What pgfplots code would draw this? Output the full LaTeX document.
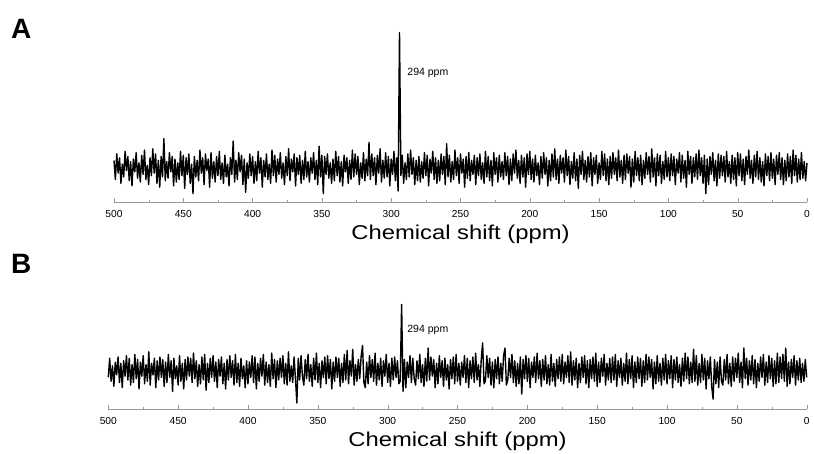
\documentclass[border=0pt]{standalone}
\usepackage{pgfplots}
\pgfplotsset{compat=1.18}
\usepackage{pgfplotstable}
\usepackage{fontspec}
\setmainfont{Liberation Sans}

% x = chemical shift (ppm), a = spectrum A, b = spectrum B (arbitrary units)
\pgfplotstableread[row sep=\\]{
x a b\\
500 6 -5\\ 499 -9 10\\ 498 11 -8\\ 497 -4 4\\ 496 8 -12\\
495 -12 7\\ 494 3 -3\\ 493 -7 11\\ 492 13 -9\\ 491 -2 6\\
490 9 -13\\ 489 -10 8\\ 488 5 -4\\ 487 -14 12\\ 486 7 -7\\
485 -3 10\\ 484 12 -11\\ 483 -8 5\\ 482 4 -9\\ 481 -11 13\\
480 10 -6\\ 479 -5 9\\ 478 14 -14\\ 477 -9 7\\ 476 2 -4\\
475 -13 12\\ 474 8 -10\\ 473 -6 5\\ 472 15 -8\\ 471 -4 15\\
470 11 -11\\ 469 -12 6\\ 468 6 -3\\ 467 -15 10\\ 466 9 -13\\
465 -7 8\\ 464 23 -7\\ 463 -10 11\\ 462 5 -5\\ 461 -8 9\\
460 12 -12\\ 459 -3 7\\ 458 9 -9\\ 457 -14 13\\ 456 7 -5\\
455 -11 8\\ 454 4 -16\\ 453 -9 10\\ 452 13 -6\\ 451 -6 4\\
450 10 -11\\ 449 -16 12\\ 448 8 -8\\ 447 -5 6\\ 446 11 -14\\
445 -12 9\\ 444 3 -7\\ 443 -20 11\\ 442 9 -4\\ 441 -7 10\\
440 6 -9\\ 439 -10 14\\ 438 14 -6\\ 437 -4 8\\ 436 8 -12\\
435 -13 5\\ 434 11 -10\\ 433 -2 11\\ 432 7 -7\\ 431 -15 13\\
430 12 -15\\ 429 -8 6\\ 428 5 -9\\ 427 -11 10\\ 426 9 -5\\
425 -6 12\\ 424 13 -8\\ 423 -9 7\\ 422 4 -13\\ 421 -12 9\\
420 10 -4\\ 419 -7 11\\ 418 3 -10\\ 417 -14 6\\ 416 8 -14\\
415 -5 9\\ 414 21 -7\\ 413 -11 12\\ 412 6 -5\\ 411 -9 8\\
410 12 -11\\ 409 -3 13\\ 408 10 -9\\ 407 -13 6\\ 406 7 -12\\
405 -19 10\\ 404 4 -6\\ 403 -8 4\\ 402 11 -13\\ 401 -6 8\\
400 9 -10\\ 399 -12 7\\ 398 5 -5\\ 397 -10 12\\ 396 13 -9\\
395 -4 11\\ 394 8 -14\\ 393 -15 6\\ 392 6 -8\\ 391 -7 10\\
390 11 -4\\ 389 -9 13\\ 388 3 -11\\ 387 -12 7\\ 386 14 -9\\
385 -6 5\\ 384 10 -12\\ 383 -11 14\\ 382 7 -6\\ 381 -5 9\\
380 12 -13\\ 379 -8 8\\ 378 4 -7\\ 377 -13 10\\ 376 9 -5\\
375 -6 12\\ 374 15 -10\\ 373 -10 6\\ 372 7 -11\\ 371 -3 15\\
370 11 -8\\ 369 -14 4\\ 368 8 -9\\ 367 -5 11\\ 366 10 -6\\
365 -12 -25\\ 364 6 10\\ 363 -9 -7\\ 362 13 12\\ 361 -7 -4\\
360 5 -11\\ 359 -11 9\\ 358 8 -6\\ 357 -4 13\\ 356 12 -8\\
355 -9 5\\ 354 6 -12\\ 353 -13 10\\ 352 17 -7\\ 351 -7 14\\
350 10 -9\\ 349 -20 6\\ 348 9 -13\\ 347 -5 8\\ 346 11 -5\\
345 -8 11\\ 344 4 -10\\ 343 -12 12\\ 342 7 -6\\ 341 -10 9\\
340 13 -14\\ 339 -6 7\\ 338 9 -8\\ 337 -11 11\\ 336 5 -5\\
335 -14 10\\ 334 10 -12\\ 333 -3 6\\ 332 8 -9\\ 331 -12 13\\
330 6 -7\\ 329 -9 16\\ 328 14 -10\\ 327 -7 8\\ 326 11 -4\\
325 -5 17\\ 324 9 -11\\ 323 -13 5\\ 322 4 -8\\ 321 -8 9\\
320 12 -6\\ 319 -10 11\\ 318 7 20\\ 317 -6 -9\\ 316 20 -13\\
315 -9 7\\ 314 11 -10\\ 313 -6 12\\ 312 8 -5\\ 311 -13 9\\
310 10 -8\\ 309 -4 14\\ 308 15 -11\\ 307 -11 6\\ 306 6 -7\\
305 -8 10\\ 304 12 -12\\ 303 -7 8\\ 302 9 -4\\ 301 -14 13\\
300 7 -9\\ 299 -5 6\\ 298 13 -12\\ 297 -10 10\\ 296 8 -7\\
295 -18 11\\ 294 106 -5\\ 293 -6 8\\ 292 10 -10\\ 291 -12 -8\\
290 4 52\\ 289 -9 -16\\ 288 11 9\\ 287 -7 -13\\ 286 14 7\\
285 -5 -5\\ 284 8 12\\ 283 -13 -9\\ 282 6 10\\ 281 -10 -6\\
280 9 -11\\ 279 -11 8\\ 278 5 -6\\ 277 -8 13\\ 276 12 -9\\
275 -6 5\\ 274 10 -12\\ 273 -14 10\\ 272 7 -8\\ 271 -4 18\\
270 13 -7\\ 269 -9 11\\ 268 8 -4\\ 267 -12 9\\ 266 6 -13\\
265 -10 6\\ 264 11 -10\\ 263 -5 12\\ 262 9 -5\\ 261 -13 8\\
260 19 -12\\ 259 -7 10\\ 258 10 -7\\ 257 -11 5\\ 256 5 -14\\
255 -9 9\\ 254 14 -6\\ 253 -6 11\\ 252 8 -10\\ 251 -12 13\\
250 11 -8\\ 249 -4 6\\ 248 7 -11\\ 247 -15 7\\ 246 9 -5\\
245 -8 12\\ 244 12 -9\\ 243 -10 10\\ 242 6 -13\\ 241 -5 8\\
240 10 -6\\ 239 -13 11\\ 238 8 -9\\ 237 -6 14\\ 236 11 -7\\
235 -9 5\\ 234 4 -12\\ 233 -12 9\\ 232 13 22\\ 231 -7 -10\\
230 9 -8\\ 229 -10 12\\ 228 6 -5\\ 227 -14 10\\ 226 12 -11\\
225 -5 7\\ 224 8 -13\\ 223 -11 9\\ 222 10 -6\\ 221 -7 11\\
220 5 -10\\ 219 -9 6\\ 218 12 -8\\ 217 -6 12\\ 216 9 18\\
215 -13 -11\\ 214 7 -7\\ 213 -10 10\\ 212 11 -5\\ 211 -4 13\\
210 14 -9\\ 209 -8 8\\ 208 6 -12\\ 207 -12 6\\ 206 10 -10\\
205 -7 11\\ 204 8 -18\\ 203 -15 9\\ 202 11 -6\\ 201 -5 12\\
200 13 -8\\ 199 -9 10\\ 198 7 -13\\ 197 -11 7\\ 196 10 -5\\
195 -6 11\\ 194 4 -9\\ 193 -13 14\\ 192 9 -6\\ 191 -8 8\\
190 12 -12\\ 189 -5 9\\ 188 8 -7\\ 187 -14 12\\ 186 6 -10\\
185 -10 5\\ 184 11 -11\\ 183 -7 13\\ 182 15 -8\\ 181 -9 6\\
180 7 -12\\ 179 -12 9\\ 178 10 -6\\ 177 -4 11\\ 176 8 -8\\
175 -11 13\\ 174 14 -10\\ 173 -6 7\\ 172 9 -5\\ 171 -13 12\\
170 5 -9\\ 169 -8 15\\ 168 12 -11\\ 167 -10 8\\ 166 7 -7\\
165 -16 10\\ 164 10 -13\\ 163 -5 6\\ 162 13 -9\\ 161 -9 11\\
160 6 -5\\ 159 -11 12\\ 158 9 -10\\ 157 -7 8\\ 156 12 -13\\
155 -14 9\\ 154 8 -6\\ 153 -5 11\\ 152 10 -8\\ 151 -12 14\\
150 4 -12\\ 149 -9 7\\ 148 13 -9\\ 147 -6 10\\ 146 11 -4\\
145 -10 13\\ 144 7 -11\\ 143 -13 6\\ 142 9 -7\\ 141 -8 10\\
140 12 -9\\ 139 -5 11\\ 138 8 -7\\ 137 -10 13\\ 136 14 -12\\
135 -7 8\\ 134 6 -5\\ 133 -12 10\\ 132 10 -11\\ 131 -9 6\\
130 11 -8\\ 129 -4 14\\ 128 9 -10\\ 127 -15 9\\ 126 7 -6\\
125 -11 12\\ 124 13 -13\\ 123 -6 7\\ 122 8 -9\\ 121 -10 11\\
120 10 -6\\ 119 -13 10\\ 118 6 -12\\ 117 -8 8\\ 116 12 -9\\
115 -5 13\\ 114 9 -7\\ 113 -11 11\\ 112 15 -5\\ 111 -7 9\\
110 8 -14\\ 109 -14 7\\ 108 11 -10\\ 107 -6 12\\ 106 10 -8\\
105 -12 6\\ 104 5 -11\\ 103 -9 10\\ 102 13 -7\\ 101 -7 13\\
100 8 -10\\ 99 -10 8\\ 98 11 -6\\ 97 -6 12\\ 96 9 -13\\
95 -13 9\\ 94 7 -7\\ 93 -4 11\\ 92 12 -9\\ 91 -11 5\\
90 10 -12\\ 89 -8 10\\ 88 6 -8\\ 87 -15 14\\ 86 13 -6\\
85 -5 11\\ 84 9 -10\\ 83 -12 7\\ 82 8 -9\\ 81 -7 17\\
80 11 -8\\ 79 -9 12\\ 78 14 -11\\ 77 -6 6\\ 76 8 -9\\
75 -12 13\\ 74 10 -7\\ 73 -20 10\\ 72 7 -14\\ 71 -13 8\\
70 9 -6\\ 69 -5 11\\ 68 12 -12\\ 67 -10 -22\\ 66 6 9\\
65 -14 -10\\ 64 11 7\\ 63 -8 -13\\ 62 10 11\\ 61 -6 -8\\
60 9 -11\\ 59 -11 9\\ 58 13 -7\\ 57 -7 13\\ 56 5 -10\\
55 -12 6\\ 54 10 -12\\ 53 -9 11\\ 52 8 -8\\ 51 -14 10\\
50 12 -5\\ 49 -6 14\\ 48 11 -9\\ 47 -10 7\\ 46 7 -13\\
45 -13 18\\ 44 9 -6\\ 43 -5 10\\ 42 14 -11\\ 41 -8 8\\
40 6 -7\\ 39 -12 12\\ 38 10 -10\\ 37 -7 9\\ 36 13 -13\\
35 -9 6\\ 34 8 -8\\ 33 -11 11\\ 32 5 -5\\ 31 -14 13\\
30 11 -11\\ 29 -6 7\\ 28 9 -9\\ 27 -10 12\\ 26 12 -6\\
25 -8 10\\ 24 7 -12\\ 23 -13 8\\ 22 10 -10\\ 21 -5 14\\
20 12 -9\\ 19 -9 11\\ 18 8 -6\\ 17 -13 13\\ 16 6 -8\\
15 -10 18\\ 14 11 -12\\ 13 -7 7\\ 12 9 -10\\ 11 -12 9\\
10 14 -5\\ 9 -6 12\\ 8 10 -11\\ 7 -11 8\\ 6 7 -7\\
5 -9 10\\ 4 12 -9\\ 3 -8 6\\ 2 5 -8\\ 1 -10 9\\
0 4 -5\\
}\spectra

\pgfplotsset{
  nmr/.style={
    scale only axis, anchor=south west, clip=false,
    axis x line=bottom, axis y line=none,
    x axis line style={gray!80, -},
    x dir=reverse, xmin=0, xmax=500,
    xtick={0,50,...,500}, minor x tick num=1,
    tick align=inside, major tick length=4pt, minor tick length=2.5pt,
    tick style={gray!80},
    xticklabel style={font=\fontsize{10.2}{12}\selectfont, yshift=-4.5pt},
    /pgf/number format/assume math mode=true,
    xlabel={\scalebox{1.19}[1]{Chemical shift (ppm)}},
    xlabel style={font=\fontsize{20}{22}\selectfont,
      at={(axis description cs:0.5,0)}, anchor=base, yshift=-37.5pt},
  },
  spec/.style={black, line width=1.4pt, line join=round},
}

\begin{document}
\begin{tikzpicture}
\useasboundingbox (0,0) rectangle (814pt,453pt);

\node[anchor=base west, inner sep=0, font=\fontsize{28}{30}\selectfont\bfseries] at (11pt,414.7pt) {A};
\node[anchor=base west, inner sep=0, font=\fontsize{28}{30}\selectfont\bfseries] at (11pt,179.7pt) {B};

\begin{axis}[nmr, at={(114pt,250.5pt)}, width=693pt, height=170.5pt, ymin=-27, ymax=106.4]
  \addplot[spec] table[x=x, y=a] {\spectra};
  \node[anchor=west, inner sep=0, font=\fontsize{10.5}{12}\selectfont] at (axis cs:288.4,74) {294 ppm};
\end{axis}

\begin{axis}[nmr, at={(108.3pt,44pt)}, width=698.4pt, height=106pt, ymin=-29.7, ymax=53.2]
  \addplot[spec] table[x=x, y=b] {\spectra};
  \node[anchor=west, inner sep=0, font=\fontsize{10.5}{12}\selectfont] at (axis cs:286,31.8) {294 ppm};
\end{axis}
\end{tikzpicture}
\end{document}
